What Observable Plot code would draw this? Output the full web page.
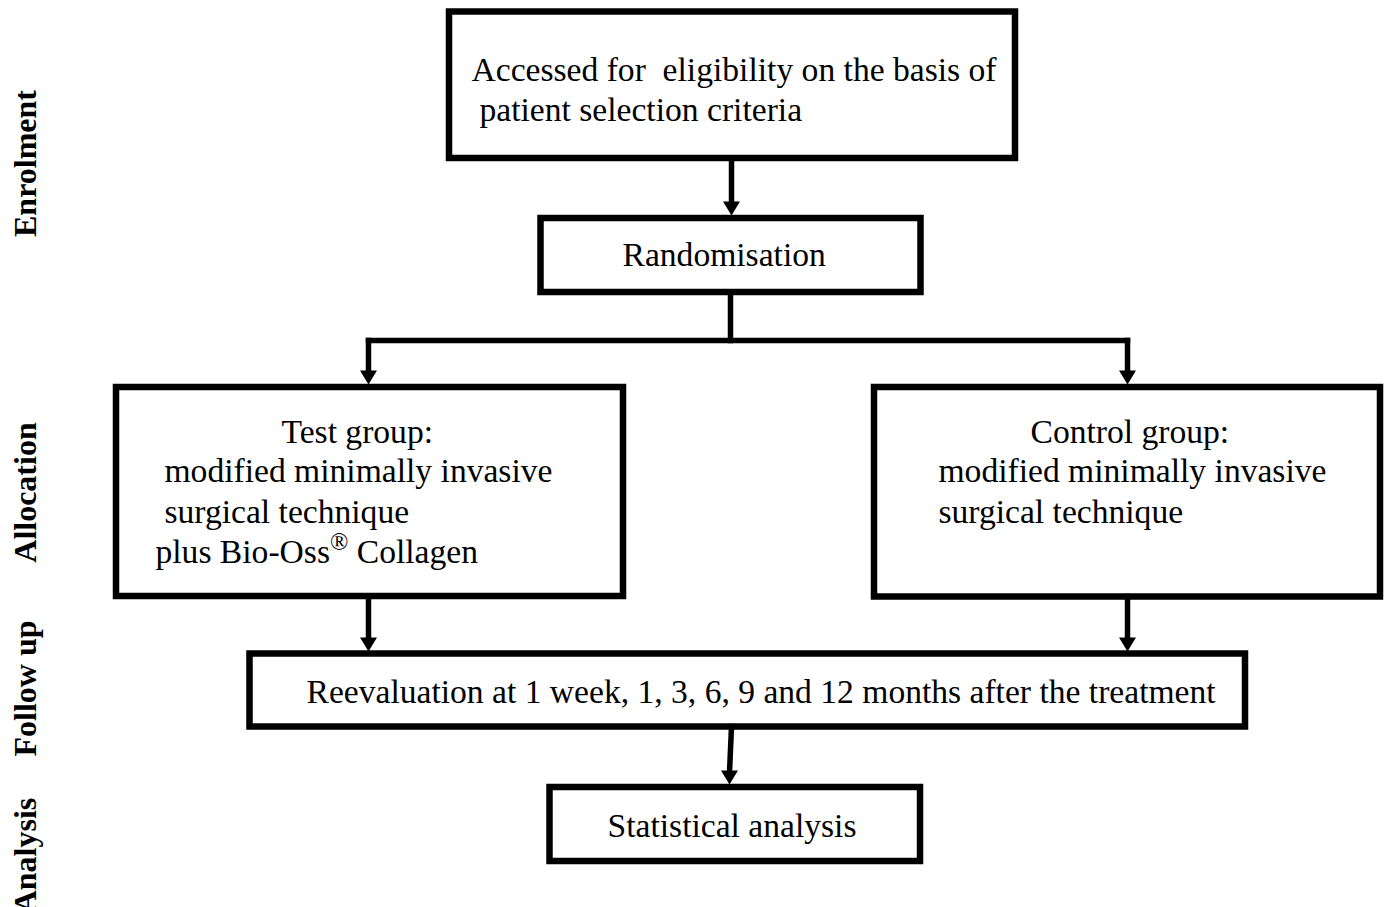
<!DOCTYPE html>
<html><head><meta charset="utf-8">
<script src="https://cdn.jsdelivr.net/npm/d3@7"></script>
<script src="https://cdn.jsdelivr.net/npm/@observablehq/plot@0.6"></script>
<style>
html,body{margin:0;padding:0;background:#fff;overflow:hidden;}
svg text{white-space:pre;}
</style></head><body><div id="chart"></div>
<script>
// Boxes (stroke-centre coordinates, in picture pixels)
const boxIds    = ["enrol", "random", "test", "control", "reeval", "stats"];
const boxLeft   = [449, 540.5, 116, 874, 249.5, 549.5];
const boxRight  = [1015, 920.5, 623, 1380, 1245, 920];
const boxTop    = [11.5, 218, 387, 387, 653.5, 787];
const boxBottom = [158, 292, 596, 596.5, 726.5, 861];

// Connector segments
const segX1 = [731, 730, 368, 368, 1127, 368, 1127, 731];
const segY1 = [158, 292, 340, 340, 340, 596, 596, 726];
const segX2 = [731, 730, 1127, 368, 1127, 368, 1127, 729];
const segY2 = [203, 340, 340, 372, 372, 639, 639, 772];

// Arrow tips
const tipX = [731, 368, 1127, 368, 1127, 729];
const tipY = [215, 384, 384, 651, 651, 784];

// Box texts
const lineTexts = [
  "Accessed for  eligibility on the basis of",
  "patient selection criteria",
  "Randomisation",
  "Test group:",
  "modified minimally invasive",
  "surgical technique",
  "plus Bio-Oss\u00AE Collagen",
  "Control group:",
  "modified minimally invasive",
  "surgical technique",
  "Reevaluation at 1 week, 1, 3, 6, 9 and 12 months after the treatment",
  "Statistical analysis"
];
const lineX = [471, 479, 622, 281, 164, 164, 155, 1030, 938, 938, 306, 607];
const lineY = [70, 110, 255, 432, 471, 512, 552, 432, 471, 512, 692, 826];

// Stage labels on the left
const stageLabels = ["Enrolment", "Allocation", "Follow up", "Analysis"];
const stageY = [163, 492, 688, 855];

const boxes = boxIds.map((id, i) => ({id, x1: boxLeft[i], x2: boxRight[i], y1: boxTop[i], y2: boxBottom[i]}));
const segs = segX1.map((x, i) => ({x1: x, y1: segY1[i], x2: segX2[i], y2: segY2[i]}));
const tips = tipX.map((x, i) => ({x, y: tipY[i]}));
const lines = lineTexts.map((t, i) => ({t, x: lineX[i], y: lineY[i]}));
const stages = stageLabels.map((t, i) => ({t, y: stageY[i]}));

const downTriangle = {
  draw(ctx) {
    ctx.moveTo(0, 0);
    ctx.lineTo(-8.5, -14);
    ctx.lineTo(8.5, -14);
    ctx.closePath();
  }
};

const serif = "'Liberation Serif', 'Times New Roman', serif";

const chart = Plot.plot({
  width: 1384,
  height: 907,
  margin: 0,
  x: {domain: [0, 1384], axis: null},
  y: {domain: [0, 907], range: [0, 907], axis: null},
  style: {background: "white"},
  marks: [
    Plot.rect(boxes, {x1: "x1", x2: "x2", y1: "y1", y2: "y2", fill: "white", stroke: "black", strokeWidth: 6.5}),
    Plot.link(segs, {x1: "x1", y1: "y1", x2: "x2", y2: "y2", stroke: "black", strokeWidth: 5.5, strokeLinecap: "square"}),
    Plot.dot(tips, {x: "x", y: "y", symbol: downTriangle, fill: "black", stroke: "none"}),
    Plot.text(lines, {x: "x", y: "y", text: "t", textAnchor: "start", fontFamily: serif, fontSize: 33.6, fill: "black"}),
    Plot.text(stages, {x: () => 25, y: "y", text: "t", rotate: -90, fontFamily: serif, fontSize: 32, fontWeight: "bold", fill: "black"})
  ]
});

chart.querySelectorAll("text").forEach(t => {
  const s = t.textContent;
  if (s.includes("\u00AE") && t.children.length === 0) {
    const [a, b] = s.split("\u00AE");
    t.textContent = "";
    t.appendChild(document.createTextNode(a));
    const sup = document.createElementNS("http://www.w3.org/2000/svg", "tspan");
    sup.setAttribute("baseline-shift", "super");
    sup.setAttribute("font-size", "72%");
    sup.textContent = "\u00AE";
    t.appendChild(sup);
    const rest = document.createElementNS("http://www.w3.org/2000/svg", "tspan");
    rest.textContent = b;
    t.appendChild(rest);
  }
});

document.getElementById("chart").appendChild(chart);
</script>
</body></html>
